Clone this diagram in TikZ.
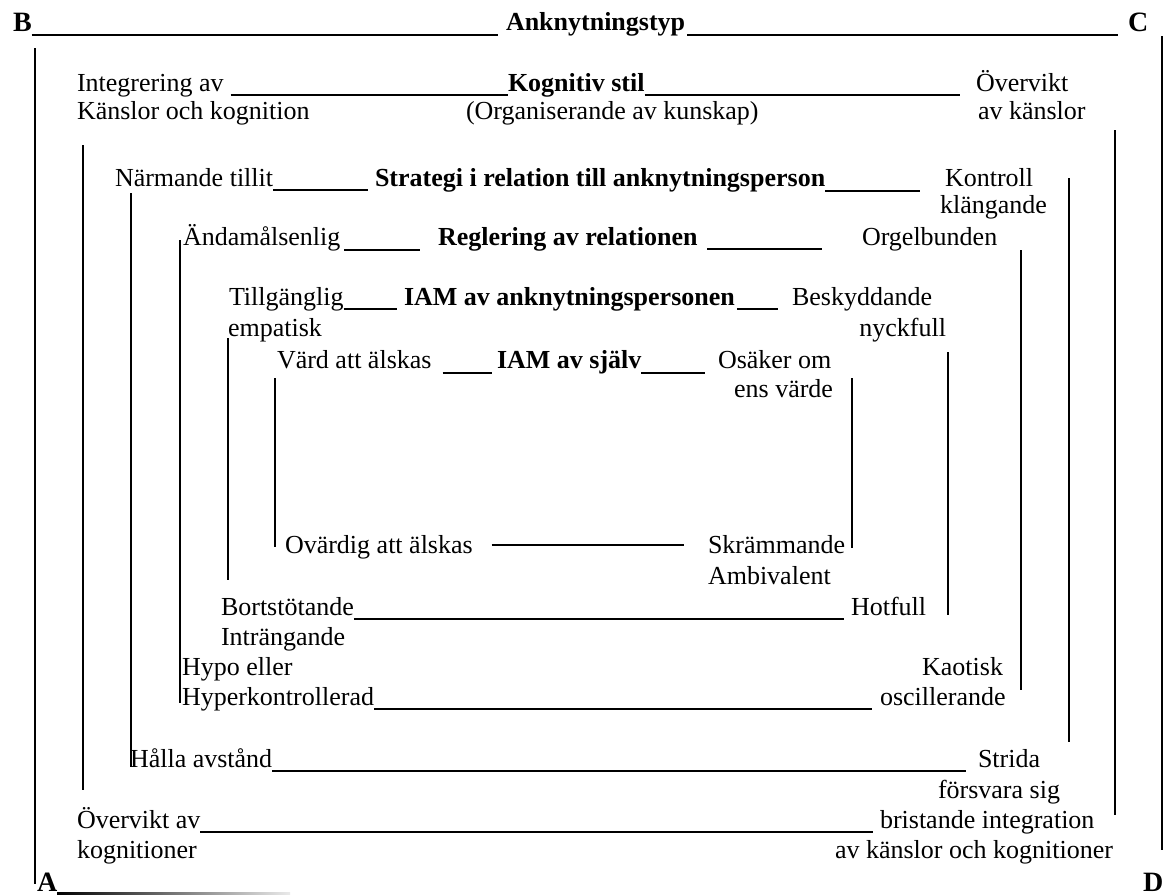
\documentclass[tikz,border=0pt]{standalone}
\usepackage{fontspec}
\setmainfont{Liberation Serif}
\begin{document}
\begin{tikzpicture}[x=1pt,y=-1pt,
  txt/.style={inner sep=0pt, outer sep=0pt, font=\fontsize{26}{29}\selectfont, anchor=base west},
  rtxt/.style={txt, anchor=base east},
  btxt/.style={txt, font=\fontsize{26}{29}\selectfont\bfseries},
  letter/.style={txt, font=\fontsize{28}{30}\selectfont\bfseries},
  ul/.style={line width=1.2pt},
  bul/.style={line width=2pt},
  vline/.style={line width=1.6pt}]
\useasboundingbox (0,0) rectangle (1174,895);
\fill[white] (0,0) rectangle (1174,895);

% Row 1
\node[letter] (B) at (13,31) {B};
\node[btxt] (ank) at (506,30) {Anknytningstyp};
\node[letter] (C) at (1128,31) {C};
\draw[bul] ([yshift=-4pt]B.base east) -- ([xshift=-8pt,yshift=-5pt]ank.base west);
\draw[bul] ([xshift=2pt,yshift=-5pt]ank.base east) -- ([xshift=-10pt,yshift=-5pt]ank.base east -| C.base west);

% Row 2-3
\node[txt] (integ) at (77,91) {Integrering av};
\node[btxt] (kog) at (508,91) {Kognitiv stil};
\node[txt] (overv) at (976,91) {Övervikt};
\draw[ul] ([xshift=7pt,yshift=-4pt]integ.base east) -- ([yshift=-4pt]kog.base west);
\draw[ul] ([yshift=-4pt]kog.base east) -- ([xshift=-16pt,yshift=-4pt]overv.base west);
\node[txt] (kansl) at (77,119) {Känslor och kognition};
\node[txt] (orgk) at (466,119) {(Organiserande av kunskap)};
\node[txt] (avks) at (978,119) {av känslor};

% Strategi
\node[txt] (narm) at (115,186) {Närmande tillit};
\node[btxt] (strat) at (375,186) {Strategi i relation till anknytningsperson};
\node[txt] (kontr) at (945,186) {Kontroll};
\node[rtxt] (klang) at (1047,213) {klängande};
\draw[ul] ([yshift=-4pt]narm.base east) -- ([xshift=-7pt,yshift=-4pt]strat.base west);
\draw[bul] ([yshift=-5pt]strat.base east) -- ([xshift=-25pt,yshift=-5pt]kontr.base west);

% Reglering
\node[txt] (anda) at (183,245) {Ändamålsenlig};
\node[btxt] (regl) at (438,245) {Reglering av relationen};
\node[txt] (orgel) at (862,245) {Orgelbunden};
\draw[bul] ([xshift=4pt,yshift=-5pt]anda.base east) -- ([xshift=-18pt,yshift=-5pt]regl.base west);
\draw[ul] ([xshift=10pt,yshift=-4pt]regl.base east) -- ([xshift=-40pt,yshift=-4pt]orgel.base west);

% IAM av anknytningspersonen
\node[txt] (till) at (229,305) {Tillgänglig};
\node[btxt] (iama) at (404,305) {IAM av anknytningspersonen};
\node[txt] (besk) at (792,305) {Beskyddande};
\node[txt] (empat) at (228,336) {empatisk};
\node[rtxt] (nyck) at (946,336) {nyckfull};
\draw[ul] ([yshift=-4pt]till.base east) -- ([xshift=-7pt,yshift=-4pt]iama.base west);
\draw[ul] ([xshift=2pt,yshift=-4pt]iama.base east) -- ([xshift=-14pt,yshift=-4pt]besk.base west);

% IAM av själv
\node[txt] (vard) at (277,368) {Värd att älskas};
\node[btxt] (iams) at (497,368) {IAM av själv};
\node[txt] (osak) at (718,368) {Osäker om};
\node[rtxt] (ensv) at (833,397) {ens värde};
\draw[bul] ([xshift=11pt,yshift=-5pt]vard.base east) -- ([xshift=-5pt,yshift=-5pt]iams.base west);
\draw[bul] ([yshift=-5pt]iams.base east) -- ([xshift=-13pt,yshift=-5pt]osak.base west);

% Ovärdig
\node[txt] (ovard) at (285,553) {Ovärdig att älskas};
\node[txt] (skram) at (708,553) {Skrämmande};
\node[txt] (ambiv) at (708,584) {Ambivalent};
\draw[ul] ([xshift=19pt,yshift=8pt]ovard.base east) -- ([xshift=-24pt,yshift=8pt]skram.base west);

% Bortstötande
\node[txt] (bort) at (221,615) {Bortstötande};
\node[txt] (hotf) at (851,615) {Hotfull};
\node[txt] (intr) at (221,645) {Inträngande};
\draw[ul] ([yshift=-4pt]bort.base east) -- ([xshift=-7pt,yshift=-4pt]hotf.base west);

% Hypo / Hyper
\node[txt] (hypo) at (182,675) {Hypo eller};
\node[rtxt] (kaot) at (1003,675) {Kaotisk};
\node[txt] (hyper) at (182,705) {Hyperkontrollerad};
\node[txt] (osc) at (880,705) {oscillerande};
\draw[ul] ([yshift=-4pt]hyper.base east) -- ([xshift=-8pt,yshift=-4pt]osc.base west);

% Hålla avstånd
\node[txt] (halla) at (130,767) {Hålla avstånd};
\node[txt] (strida) at (978,767) {Strida};
\node[rtxt] (forsv) at (1060,798) {försvara sig};
\draw[ul] ([yshift=-4pt]halla.base east) -- ([xshift=-12pt,yshift=-4pt]strida.base west);

% Övervikt av kognitioner
\node[txt] (overav) at (77,828) {Övervikt av};
\node[txt] (brist) at (880,828) {bristande integration};
\node[txt] (kogn) at (77,858) {kognitioner};
\node[rtxt] (avkk) at (1113,858) {av känslor och kognitioner};
\draw[ul] ([yshift=-4pt]overav.base east) -- ([xshift=-7pt,yshift=-4pt]brist.base west);

% A and D
\node[letter] (A) at (37,891) {A};
\node[letter] (D) at (1143,891) {D};
\shade[left color=black, right color=black!8] ([yshift=-1pt]A.base east) rectangle ([xshift=233pt,yshift=-3pt]A.base east);

% vertical lines, left
\draw[vline] (35,48) -- (35,884);
\draw[vline] (83,145) -- (83,790);
\draw[vline] (131,193) -- (131,767);
\draw[vline] (180,240) -- (180,703);
\draw[vline] (228,338) -- (228,580);
\draw[vline] (275,378) -- (275,547);
% vertical lines, right
\draw[vline] (1162,36) -- (1162,850);
\draw[vline] (1115,130) -- (1115,815);
\draw[vline] (1069,178) -- (1069,742);
\draw[vline] (1021,250) -- (1021,690);
\draw[vline] (948,352) -- (948,615);
\draw[vline] (852,378) -- (852,548);
\end{tikzpicture}
\end{document}
